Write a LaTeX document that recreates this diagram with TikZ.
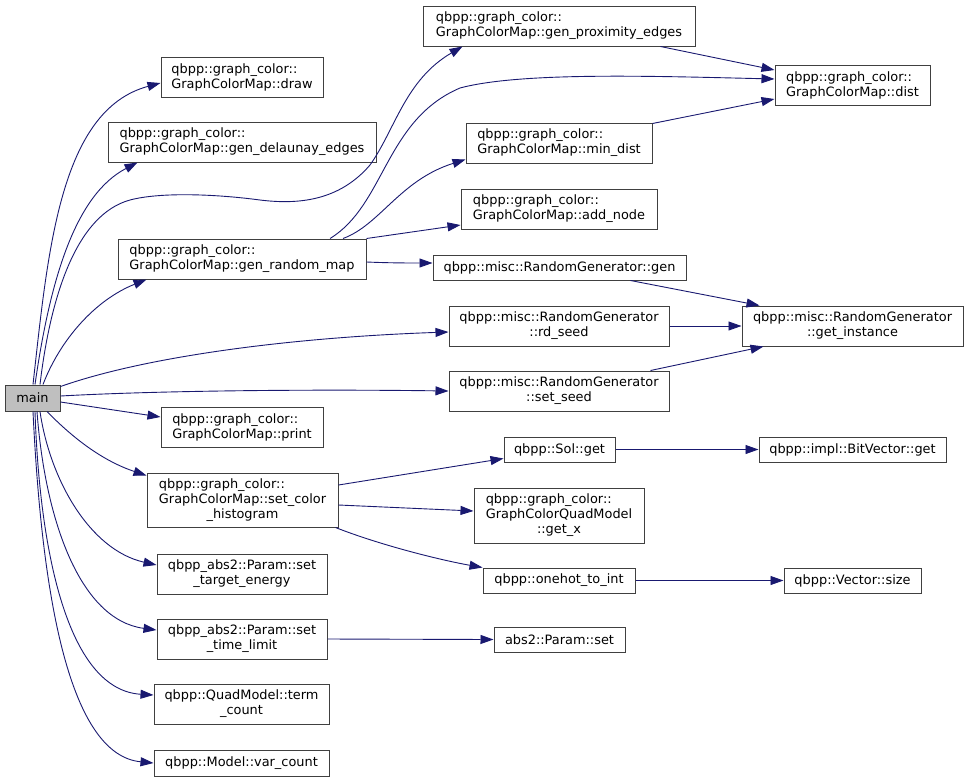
\documentclass[tikz,border=0pt]{standalone}
\usepackage{fontspec}
\setmainfont{DejaVu Sans}
\usetikzlibrary{arrows.meta}
\definecolor{edgeblue}{HTML}{191970}
\definecolor{boxline}{HTML}{404040}
\definecolor{mainfill}{HTML}{BFBFBF}
\tikzset{
  fn/.style={draw=boxline, line width=1pt, fill=white, inner sep=2pt, rectangle, align=left},
  fnc/.style={fn, align=center},
  call/.style={draw=edgeblue, line width=0.9pt, -{Triangle[length=13pt,width=9pt]}, fill=none},
}
\begin{document}
\begin{tikzpicture}[x=1pt, y=-1pt, font=\fontsize{12.9}{15}\selectfont]
\useasboundingbox (0,0) rectangle (968,782);
% nodes (centers in pixel coordinates)
\node[fnc, fill=mainfill, minimum width=55pt, minimum height=26pt] (main) at (32.5,398) {main};
\node[fn, minimum width=162pt, minimum height=40pt] (draw) at (242,77) {qbpp::graph\_color::\\GraphColorMap::draw};
\node[fn, minimum width=268pt, minimum height=40pt] (del) at (242,142) {qbpp::graph\_color::\\GraphColorMap::gen\_delaunay\_edges};
\node[fn, minimum width=248pt, minimum height=40pt] (grm) at (242,259) {qbpp::graph\_color::\\GraphColorMap::gen\_random\_map};
\node[fn, minimum width=162pt, minimum height=40pt] (prt) at (242,427) {qbpp::graph\_color::\\GraphColorMap::print};
\node[fnc, minimum width=191pt, minimum height=54pt] (sch) at (242.5,500) {\rlap{qbpp::graph\_color::}\phantom{GraphColorMap::set\_color}\\GraphColorMap::set\_color\\\_histogram};
\node[fnc, minimum width=170pt, minimum height=40pt] (ste) at (242,574) {qbpp\_abs2::Param::set\\\_target\_energy};
\node[fnc, minimum width=170pt, minimum height=40pt] (stl) at (242,639) {qbpp\_abs2::Param::set\\\_time\_limit};
\node[fnc, minimum width=175pt, minimum height=40pt] (tc) at (241.5,704) {qbpp::QuadModel::term\\\_count};
\node[fnc, minimum width=175pt, minimum height=26pt] (vc) at (241.5,763) {qbpp::Model::var\_count};
\node[fn, minimum width=272pt, minimum height=40pt] (gpe) at (559,26) {qbpp::graph\_color::\\GraphColorMap::gen\_proximity\_edges};
\node[fn, minimum width=186pt, minimum height=40pt] (md) at (559,143) {qbpp::graph\_color::\\GraphColorMap::min\_dist};
\node[fn, minimum width=196pt, minimum height=40pt] (an) at (559,209) {qbpp::graph\_color::\\GraphColorMap::add\_node};
\node[fnc, minimum width=253pt, minimum height=25pt] (rgg) at (559.5,267.5) {qbpp::misc::RandomGenerator::gen};
\node[fnc, minimum width=220pt, minimum height=40pt] (rd) at (559,326) {qbpp::misc::RandomGenerator\\::rd\_seed};
\node[fnc, minimum width=220pt, minimum height=40pt] (ss) at (559,391) {qbpp::misc::RandomGenerator\\::set\_seed};
\node[fnc, minimum width=111pt, minimum height=25pt] (sol) at (559.5,449.5) {qbpp::Sol::get};
\node[fnc, minimum width=170pt, minimum height=55pt] (gx) at (559,515.5) {\rlap{qbpp::graph\_color::}\phantom{GraphColorQuadModel}\\GraphColorQuadModel\\::get\_x};
\node[fnc, minimum width=152pt, minimum height=25pt] (oh) at (559,580.5) {qbpp::onehot\_to\_int};
\node[fnc, minimum width=131pt, minimum height=25pt] (aps) at (559.5,639.5) {abs2::Param::set};
\node[fn, minimum width=155pt, minimum height=40pt] (dist) at (852.5,85) {qbpp::graph\_color::\\GraphColorMap::dist};
\node[fnc, minimum width=221pt, minimum height=40pt] (gi) at (852.5,326) {qbpp::misc::RandomGenerator\\::get\_instance};
\node[fnc, minimum width=187pt, minimum height=25pt] (bv) at (852.5,449.5) {qbpp::impl::BitVector::get};
\node[fnc, minimum width=137pt, minimum height=25pt] (vs) at (852.5,580.5) {qbpp::Vector::size};
% edges from main
\draw[call] ([xshift=0.5pt]main.north) .. controls (48,250) and (60,110) .. ([yshift=-6pt]draw.west);
\draw[call] ([xshift=2.5pt]main.north) .. controls (50,280) and (75,195) .. ([xshift=30pt]del.south west);
\draw[call] ([xshift=7.5pt]main.north) .. controls (50,300) and (75,215) .. (130,200)
   .. controls (160,192) and (215,194) .. (260,200)
   .. controls (300,205) and (340,200) .. (370,165)
   .. controls (395,130) and (405,80) .. ([xshift=40pt]gpe.south west);
\draw[call] ([xshift=10.5pt]main.north) .. controls (60,340) and (95,300) .. ([xshift=29pt]grm.south west);
\draw[call] ([yshift=-2pt]main.north east) .. controls (150,355) and (300,337) .. ([yshift=-6pt]rd.west);
\draw[call] ([yshift=2pt]main.east) .. controls (150,391) and (300,389) .. (ss.west);
\draw[call] ([yshift=-4pt]main.east) -- ([yshift=10pt]prt.west);
\draw[call] ([xshift=14.5pt]main.south) .. controls (70,435) and (100,460) .. ([yshift=-3pt]sch.north west);
\draw[call] ([xshift=7.5pt]main.south) .. controls (50,480) and (90,550) .. ([yshift=9pt]ste.west);
\draw[call] ([xshift=4.5pt]main.south) .. controls (45,520) and (80,620) .. ([yshift=9pt]stl.west);
\draw[call] ([xshift=2.5pt]main.south) .. controls (40,560) and (70,690) .. ([yshift=9pt]tc.west);
\draw[call] ([xshift=0.5pt]main.south) .. controls (42,600) and (70,755) .. (vc.west);
% edges from gen_random_map
\draw[call] ([xshift=88pt]grm.north) .. controls (385,205) and (385,120) .. (460,88)
   .. controls (520,72) and (650,76) .. ([yshift=6pt]dist.west);
\draw[call] ([xshift=101pt]grm.north) .. controls (380,225) and (400,180) .. ([yshift=4pt]md.south west);
\draw[call] (grm.north east) -- ([yshift=-16pt]an.west);
\draw[call] ([yshift=-3pt]grm.east) .. controls (390,263) and (410,263) .. ([yshift=4.5pt]rgg.west);
% to dist
\draw[call] ([xshift=-35pt]gpe.south east) -- ([yshift=15pt]dist.west);
\draw[call] ([yshift=-1pt]md.north east) -- ([yshift=-14pt]dist.west);
% to get_instance
\draw[call] ([xshift=-56pt]rgg.south east) -- ([xshift=18pt]gi.north west);
\draw[call] (rd.east) -- (gi.west);
\draw[call] ([xshift=-19pt]ss.north east) -- ([xshift=22pt]gi.south west);
% from set_color_histogram
\draw[call] ([yshift=15pt]sch.east) -- ([yshift=4pt]sol.south west);
\draw[call] ([yshift=-5pt]sch.east) -- ([yshift=4.5pt]gx.west);
\draw[call] ([xshift=-3pt]sch.south east) .. controls (380,545) and (440,560) .. (oh.north west);
\draw[call] (sol.east) -- (bv.west);
\draw[call] (oh.east) -- (vs.west);
\draw[call] (stl.east) -- (aps.west);
\end{tikzpicture}
\end{document}
